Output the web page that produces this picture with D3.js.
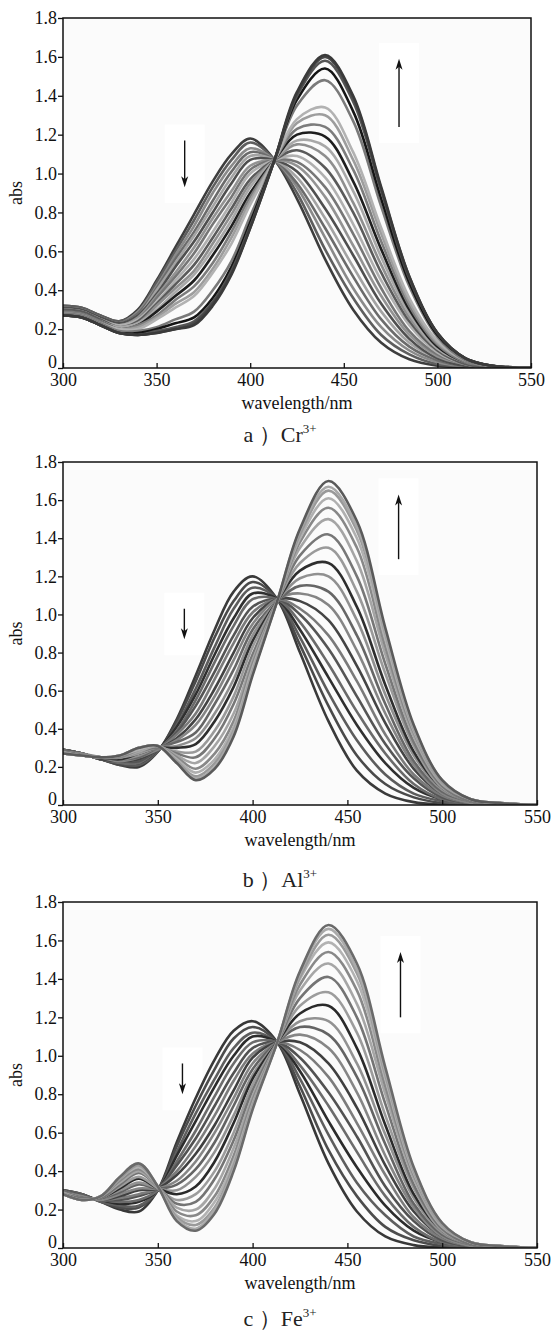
<!DOCTYPE html>
<html><head><meta charset="utf-8">
<script src="https://cdn.jsdelivr.net/npm/d3@7"></script>
<style>body{margin:0;background:#fff}</style>
</head><body>
<svg id="chart" width="552" height="1335"></svg>
<script>
// ---------- data ----------
const wavelengths = [300,310,320,330,340,350,360,370,380,390,400,413,425,440,455,470,485,500,515,530,550];
const xTicks = [300,350,400,450,500,550];
const xTickLabels = ["300","350","400","450","500","550"];
const yTicks = [0,0.2,0.4,0.6,0.8,1.0,1.2,1.4,1.6,1.8];
const yTickLabels = ["0","0.2","0.4","0.6","0.8","1.0","1.2","1.4","1.6","1.8"];
const xTitle = "wavelength/nm";
const yTitle = "abs";
const panelLetters = ["a","b","c"];
const ions = ["Cr","Al","Fe"];
const charge = "3+";

const crSpectra = [
 [0.32,0.31,0.27,0.24,0.30,0.45,0.62,0.79,0.96,1.10,1.18,1.07,0.87,0.56,0.30,0.13,0.045,0.012,0.003,0,0],
 [0.32,0.31,0.27,0.24,0.29,0.44,0.60,0.76,0.93,1.07,1.16,1.07,0.90,0.61,0.36,0.17,0.07,0.02,0.01,0,0],
 [0.31,0.30,0.26,0.23,0.29,0.42,0.58,0.73,0.90,1.04,1.13,1.07,0.93,0.67,0.41,0.21,0.09,0.03,0.01,0,0],
 [0.31,0.30,0.26,0.23,0.28,0.41,0.56,0.70,0.86,1.01,1.11,1.07,0.95,0.72,0.47,0.25,0.11,0.04,0.01,0,0],
 [0.31,0.30,0.26,0.23,0.27,0.40,0.54,0.68,0.83,0.98,1.09,1.07,0.98,0.77,0.52,0.29,0.13,0.05,0.01,0,0],
 [0.31,0.30,0.26,0.23,0.27,0.38,0.52,0.65,0.80,0.95,1.07,1.07,1.01,0.82,0.58,0.33,0.15,0.05,0.01,0,0],
 [0.30,0.29,0.25,0.22,0.26,0.37,0.49,0.62,0.77,0.91,1.04,1.07,1.04,0.88,0.63,0.37,0.17,0.06,0.02,0,0],
 [0.30,0.29,0.25,0.22,0.25,0.36,0.47,0.59,0.74,0.88,1.02,1.07,1.06,0.93,0.69,0.41,0.19,0.07,0.02,0,0],
 [0.30,0.29,0.25,0.22,0.25,0.34,0.45,0.56,0.70,0.85,1.00,1.07,1.09,0.98,0.74,0.45,0.22,0.08,0.02,0,0],
 [0.30,0.29,0.25,0.21,0.24,0.33,0.43,0.53,0.67,0.82,0.97,1.07,1.12,1.03,0.80,0.49,0.24,0.09,0.02,0,0],
 [0.29,0.28,0.24,0.21,0.23,0.32,0.41,0.50,0.64,0.79,0.95,1.07,1.15,1.09,0.85,0.53,0.26,0.10,0.03,0.01,0],
 [0.29,0.28,0.24,0.21,0.23,0.30,0.39,0.48,0.61,0.76,0.93,1.07,1.17,1.14,0.91,0.57,0.28,0.10,0.03,0.01,0],
 [0.29,0.28,0.24,0.20,0.22,0.29,0.37,0.45,0.58,0.73,0.90,1.07,1.20,1.19,0.96,0.61,0.30,0.11,0.03,0.01,0],
 [0.29,0.28,0.24,0.20,0.22,0.27,0.35,0.42,0.54,0.70,0.88,1.07,1.23,1.24,1.02,0.65,0.32,0.12,0.03,0.01,0],
 [0.28,0.27,0.23,0.20,0.21,0.26,0.33,0.39,0.51,0.67,0.86,1.07,1.26,1.30,1.07,0.69,0.34,0.13,0.04,0.01,0],
 [0.28,0.27,0.23,0.20,0.20,0.25,0.31,0.37,0.49,0.64,0.84,1.07,1.28,1.34,1.11,0.72,0.36,0.14,0.04,0.01,0],
 [0.28,0.27,0.23,0.19,0.19,0.21,0.25,0.29,0.40,0.55,0.78,1.07,1.35,1.48,1.27,0.83,0.42,0.16,0.04,0.01,0],
 [0.27,0.26,0.22,0.18,0.18,0.20,0.23,0.26,0.36,0.52,0.75,1.07,1.38,1.54,1.32,0.87,0.44,0.17,0.05,0.01,0],
 [0.27,0.26,0.22,0.18,0.17,0.19,0.21,0.24,0.34,0.50,0.73,1.07,1.40,1.58,1.37,0.91,0.46,0.18,0.05,0.01,0],
 [0.27,0.26,0.22,0.18,0.17,0.18,0.20,0.23,0.33,0.49,0.72,1.07,1.41,1.60,1.39,0.92,0.47,0.18,0.05,0.01,0],
 [0.27,0.26,0.22,0.18,0.17,0.18,0.20,0.22,0.32,0.48,0.72,1.07,1.42,1.61,1.40,0.93,0.47,0.18,0.05,0.01,0]
];

const alSpectra = [
 [0.29,0.27,0.24,0.21,0.20,0.28,0.45,0.68,0.92,1.12,1.20,1.08,0.80,0.44,0.18,0.06,0.015,0.003,0,0,0],
 [0.29,0.27,0.24,0.21,0.21,0.28,0.44,0.65,0.88,1.07,1.17,1.08,0.84,0.52,0.26,0.11,0.04,0.01,0,0,0],
 [0.29,0.27,0.24,0.22,0.21,0.28,0.42,0.61,0.83,1.03,1.14,1.08,0.88,0.59,0.34,0.16,0.06,0.02,0,0,0],
 [0.29,0.27,0.24,0.22,0.22,0.29,0.41,0.58,0.79,0.98,1.11,1.08,0.92,0.67,0.42,0.22,0.09,0.03,0.01,0,0],
 [0.29,0.27,0.24,0.22,0.22,0.29,0.39,0.55,0.75,0.94,1.08,1.08,0.96,0.74,0.49,0.27,0.11,0.03,0.01,0,0],
 [0.28,0.27,0.24,0.23,0.23,0.29,0.38,0.52,0.70,0.89,1.04,1.08,1.00,0.82,0.57,0.32,0.14,0.04,0.01,0,0],
 [0.28,0.27,0.24,0.23,0.24,0.29,0.37,0.48,0.66,0.85,1.01,1.08,1.03,0.89,0.65,0.37,0.16,0.05,0.01,0,0],
 [0.28,0.27,0.24,0.23,0.24,0.29,0.35,0.45,0.61,0.80,0.98,1.08,1.07,0.97,0.73,0.43,0.19,0.06,0.01,0,0],
 [0.28,0.27,0.25,0.23,0.25,0.29,0.34,0.42,0.57,0.76,0.95,1.08,1.11,1.05,0.81,0.48,0.21,0.06,0.01,0,0],
 [0.28,0.26,0.25,0.24,0.25,0.30,0.33,0.38,0.53,0.71,0.92,1.07,1.15,1.12,0.89,0.53,0.23,0.07,0.02,0.01,0],
 [0.28,0.26,0.25,0.24,0.26,0.30,0.31,0.35,0.48,0.66,0.89,1.07,1.19,1.20,0.97,0.58,0.26,0.08,0.02,0.01,0],
 [0.28,0.26,0.25,0.24,0.27,0.30,0.30,0.32,0.44,0.62,0.86,1.07,1.23,1.27,1.04,0.63,0.28,0.09,0.02,0.01,0],
 [0.28,0.26,0.25,0.25,0.27,0.30,0.28,0.28,0.39,0.57,0.83,1.07,1.27,1.35,1.12,0.69,0.31,0.09,0.02,0.01,0],
 [0.27,0.26,0.25,0.25,0.28,0.30,0.27,0.25,0.35,0.53,0.79,1.07,1.31,1.42,1.20,0.74,0.33,0.10,0.02,0.01,0],
 [0.27,0.26,0.25,0.25,0.28,0.31,0.26,0.22,0.31,0.48,0.76,1.07,1.35,1.50,1.28,0.79,0.36,0.11,0.03,0.01,0],
 [0.27,0.26,0.25,0.25,0.29,0.31,0.25,0.19,0.27,0.44,0.74,1.07,1.38,1.56,1.35,0.83,0.38,0.12,0.03,0.01,0],
 [0.27,0.26,0.25,0.26,0.29,0.31,0.24,0.17,0.24,0.41,0.72,1.07,1.40,1.61,1.40,0.87,0.39,0.12,0.03,0.01,0],
 [0.27,0.26,0.25,0.26,0.30,0.31,0.23,0.15,0.22,0.39,0.70,1.07,1.42,1.65,1.44,0.90,0.40,0.12,0.03,0.01,0],
 [0.27,0.26,0.25,0.26,0.30,0.31,0.22,0.14,0.20,0.38,0.69,1.07,1.44,1.67,1.46,0.91,0.41,0.13,0.03,0.01,0],
 [0.27,0.26,0.25,0.26,0.30,0.31,0.22,0.13,0.19,0.36,0.68,1.07,1.45,1.70,1.49,0.93,0.42,0.13,0.03,0.01,0]
];

const feSpectra = [
 [0.30,0.28,0.24,0.20,0.19,0.30,0.55,0.78,0.98,1.13,1.18,1.07,0.80,0.44,0.19,0.06,0.015,0.003,0,0,0],
 [0.30,0.28,0.24,0.21,0.21,0.30,0.53,0.74,0.93,1.09,1.15,1.07,0.84,0.51,0.27,0.11,0.04,0.01,0,0,0],
 [0.30,0.28,0.24,0.22,0.22,0.30,0.50,0.70,0.88,1.04,1.12,1.07,0.88,0.59,0.34,0.17,0.06,0.02,0,0,0],
 [0.30,0.27,0.25,0.23,0.24,0.30,0.48,0.66,0.84,1.00,1.10,1.07,0.92,0.66,0.42,0.22,0.09,0.03,0.01,0,0],
 [0.30,0.27,0.25,0.24,0.25,0.30,0.45,0.61,0.79,0.96,1.07,1.07,0.95,0.74,0.50,0.27,0.11,0.03,0.01,0,0],
 [0.29,0.27,0.25,0.25,0.27,0.31,0.43,0.57,0.74,0.91,1.04,1.07,0.99,0.81,0.58,0.32,0.14,0.04,0.01,0,0],
 [0.29,0.27,0.25,0.26,0.28,0.31,0.40,0.53,0.69,0.87,1.01,1.07,1.03,0.89,0.65,0.38,0.16,0.05,0.01,0,0],
 [0.29,0.27,0.25,0.27,0.30,0.31,0.38,0.49,0.64,0.82,0.99,1.07,1.07,0.96,0.73,0.43,0.19,0.06,0.01,0,0],
 [0.29,0.27,0.25,0.28,0.31,0.31,0.35,0.45,0.60,0.78,0.96,1.07,1.11,1.04,0.81,0.48,0.21,0.06,0.01,0,0],
 [0.29,0.26,0.26,0.29,0.33,0.31,0.33,0.41,0.55,0.74,0.93,1.07,1.15,1.11,0.89,0.54,0.23,0.07,0.02,0.01,0],
 [0.29,0.26,0.26,0.30,0.34,0.31,0.30,0.37,0.50,0.69,0.90,1.07,1.18,1.18,0.96,0.59,0.26,0.08,0.02,0.01,0],
 [0.29,0.26,0.26,0.31,0.36,0.31,0.28,0.32,0.45,0.65,0.88,1.07,1.22,1.26,1.04,0.64,0.28,0.09,0.02,0.01,0],
 [0.29,0.26,0.26,0.32,0.37,0.31,0.25,0.28,0.40,0.60,0.85,1.07,1.26,1.33,1.12,0.69,0.31,0.09,0.02,0.01,0],
 [0.28,0.26,0.26,0.33,0.39,0.32,0.23,0.24,0.36,0.56,0.82,1.07,1.30,1.41,1.20,0.75,0.33,0.10,0.02,0.01,0],
 [0.28,0.25,0.27,0.34,0.40,0.32,0.21,0.20,0.31,0.52,0.79,1.07,1.34,1.48,1.27,0.80,0.36,0.11,0.03,0.01,0],
 [0.28,0.25,0.27,0.35,0.41,0.32,0.19,0.17,0.27,0.48,0.77,1.07,1.37,1.54,1.34,0.84,0.38,0.12,0.03,0.01,0],
 [0.28,0.25,0.27,0.36,0.42,0.32,0.17,0.14,0.24,0.45,0.75,1.07,1.40,1.59,1.39,0.88,0.39,0.12,0.03,0.01,0],
 [0.28,0.25,0.27,0.36,0.43,0.32,0.16,0.12,0.21,0.43,0.74,1.07,1.41,1.63,1.43,0.90,0.40,0.12,0.03,0.01,0],
 [0.28,0.25,0.27,0.37,0.44,0.32,0.15,0.10,0.20,0.41,0.73,1.07,1.43,1.66,1.45,0.92,0.41,0.13,0.03,0.01,0],
 [0.28,0.25,0.27,0.37,0.44,0.32,0.14,0.09,0.18,0.40,0.72,1.07,1.44,1.68,1.48,0.94,0.42,0.13,0.03,0.01,0]
];

// arrows: [wavelength, abs start, abs end]
const crArrows = [[365,1.17,0.93],[479.5,1.24,1.59]];
const alArrows = [[364,1.03,0.87],[477,1.29,1.63]];
const feArrows = [[363,0.96,0.80],[478,1.20,1.54]];

// ---------- styles / layout ----------
const crColors = ["#3d3d3d","#5e5e5e","#8a8a8a","#6b6b6b","#a3a3a3","#4f4f4f","#939393","#767676","#b0b0b0","#5a5a5a","#8f8f8f","#a8a8a8","#1e1e1e","#7c7c7c","#9d9d9d","#b2b2b2","#7a7a7a","#151515","#555555","#474747","#3a3a3a"];
const alColors = ["#3a3a3a","#4a4a4a","#5c5c5c","#303030","#6a6a6a","#555555","#7a7a7a","#444444","#858585","#666666","#909090","#2e2e2e","#9a9a9a","#777777","#a5a5a5","#888888","#b0b0b0","#999999","#a8a8a8","#5a5a5a"];
const feColors = ["#383838","#4c4c4c","#5e5e5e","#2c2c2c","#6c6c6c","#525252","#7c7c7c","#404040","#868686","#646464","#929292","#2a2a2a","#9c9c9c","#747474","#a6a6a6","#888888","#b2b2b2","#9a9a9a","#aaaaaa","#6a6a6a"];

const panels = [
  {spectra: crSpectra, colors: crColors, arrows: crArrows, L:63, R:531, T:18, B:368, capY:442},
  {spectra: alSpectra, colors: alColors, arrows: alArrows, L:63, R:537, T:462, B:805, capY:887},
  {spectra: feSpectra, colors: feColors, arrows: feArrows, L:63, R:537, T:902, B:1248, capY:1326}
];

const FONT = "'Liberation Serif','Times New Roman',serif";
const svg = d3.select("#chart");
svg.append("rect").attr("width",552).attr("height",1335).attr("fill","#fff");

panels.forEach((p, pi) => {
  const x = d3.scaleLinear().domain([300,550]).range([p.L, p.R]);
  const y = d3.scaleLinear().domain([0,1.8]).range([p.B, p.T]);
  const g = svg.append("g");
  const clipId = "clip" + pi;
  svg.append("clipPath").attr("id", clipId).append("rect")
     .attr("x", p.L).attr("y", p.T).attr("width", p.R - p.L).attr("height", p.B - p.T);

  g.append("rect").attr("x", p.L).attr("y", p.T).attr("width", p.R-p.L).attr("height", p.B-p.T)
   .attr("fill", "#fbfbfb");

  p.arrows.forEach(a => {
    const ya = y(a[1]), yb = y(a[2]);
    g.append("rect").attr("x", x(a[0]) - 20).attr("y", Math.min(ya,yb) - 16)
     .attr("width", 40).attr("height", Math.abs(ya-yb) + 32).attr("fill", "#fff");
  });

  const line = d3.line()
    .x((d,i) => x(wavelengths[i]))
    .y(d => y(d))
    .curve(d3.curveCatmullRom.alpha(0.5));

  const lines = g.append("g").attr("clip-path", `url(#${clipId})`);
  p.spectra.forEach((s, i) => {
    lines.append("path").attr("d", line(s)).attr("fill","none")
      .attr("stroke", p.colors[i % p.colors.length]).attr("stroke-width", 2.6)
      .attr("stroke-linejoin","round").attr("stroke-linecap","round");
  });

  p.arrows.forEach(a => {
    const ax = x(a[0]), y0 = y(a[1]), y1 = y(a[2]);
    const dir = y1 > y0 ? 1 : -1;
    g.append("line").attr("x1", ax).attr("x2", ax).attr("y1", y0).attr("y2", y1 - dir*8)
      .attr("stroke", "#111").attr("stroke-width", 1.4);
    g.append("path").attr("d", `M${ax},${y1} L${ax-3.5},${y1 - dir*11} L${ax},${y1 - dir*8} L${ax+3.5},${y1 - dir*11} Z`)
      .attr("fill", "#111");
  });

  g.append("rect").attr("x", p.L).attr("y", p.T).attr("width", p.R-p.L).attr("height", p.B-p.T)
   .attr("fill","none").attr("stroke","#111").attr("stroke-width",1.5);

  const yAxis = d3.axisLeft(y).tickValues(yTicks).tickSize(5).tickPadding(1)
    .tickFormat((d,i) => yTickLabels[i]);
  const xAxis = d3.axisBottom(x).tickValues(xTicks).tickSizeInner(-5).tickSizeOuter(0).tickPadding(5)
    .tickFormat((d,i) => xTickLabels[i]);
  const ya = g.append("g").attr("transform", `translate(${p.L},0)`).call(yAxis);
  const xa = g.append("g").attr("transform", `translate(0,${p.B})`).call(xAxis);
  [ya, xa].forEach(ax => {
    ax.select(".domain").remove();
    ax.selectAll(".tick line").attr("stroke","#111").attr("stroke-width",1.3);
    ax.selectAll("text").attr("font-family", FONT).attr("font-size", 18).attr("fill","#111");
  });
  ya.selectAll(".tick").filter(d => d === 0).select("text").attr("dy", "-0.05em");

  g.append("text").attr("x", (p.L + p.R)/2).attr("y", p.B + 41).attr("text-anchor","middle")
    .attr("font-family", FONT).attr("font-size", 18).attr("fill","#111").text(xTitle);
  g.append("text").attr("transform", `translate(22,${(p.T+p.B)/2}) rotate(-90)`).attr("text-anchor","middle")
    .attr("font-family", FONT).attr("font-size", 18).attr("fill","#111").text(yTitle);

  const cap = g.append("text").attr("x", 280).attr("y", p.capY).attr("text-anchor","middle")
    .attr("font-family", FONT).attr("font-size", 22).attr("fill","#222");
  cap.append("tspan").text(panelLetters[pi] + " \uFF09" + ions[pi]);
  cap.append("tspan").attr("dy", -9).attr("font-size", 13).text(charge);
});
</script>
</body></html>
